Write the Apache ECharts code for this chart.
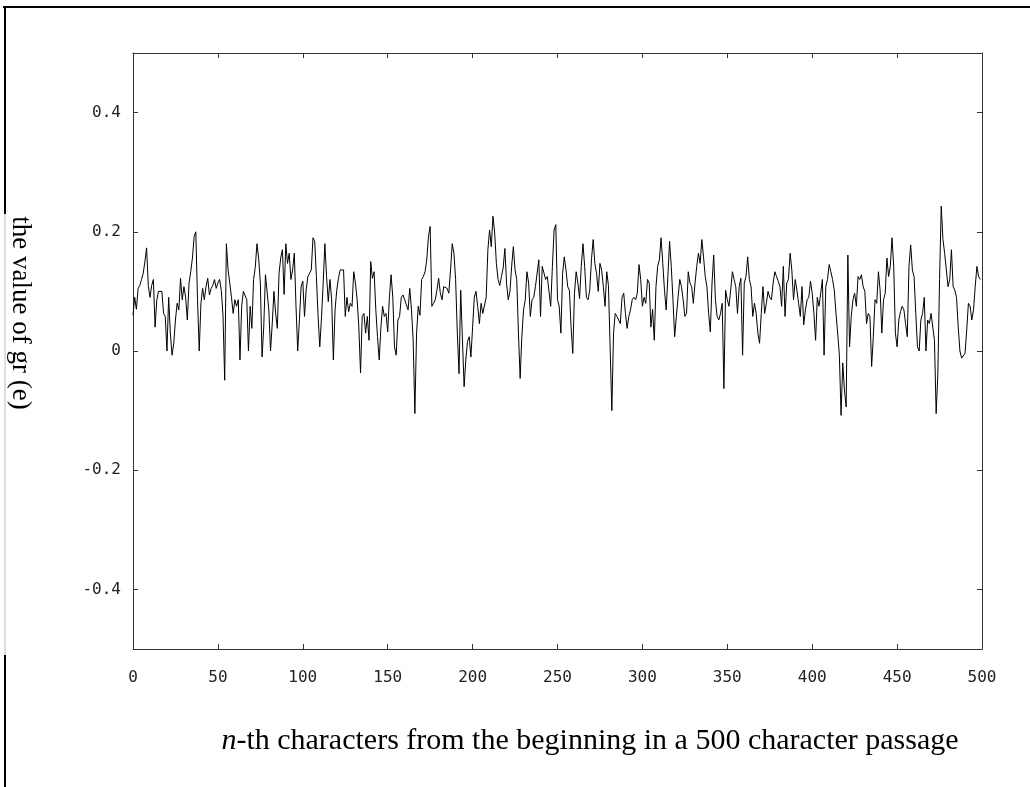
<!DOCTYPE html>
<html>
<head>
<meta charset="utf-8">
<script src="https://cdn.jsdelivr.net/npm/echarts@6/dist/echarts.min.js"></script>
<style>
  html, body { margin: 0; padding: 0; background: #fff; }
  #main { width: 1030px; height: 787px; }
</style>
</head>
<body>
<div id="main"></div>
<script>
var myChart = echarts.init(document.getElementById('main'));

// gr(e) value for each character position
var gr000 = [
    0.06, 0.09, 0.07, 0.105, 0.11, 0.12, 0.13, 0.15, 0.173, 0.11,
    0.09, 0.11, 0.12, 0.04, 0.085, 0.1, 0.097, 0.1, 0.063, 0.058,
    0.0, 0.09, 0.03, -0.007, 0.013, 0.052, 0.08, 0.069, 0.122, 0.086,
    0.108, 0.09, 0.052, 0.114, 0.133, 0.156, 0.192, 0.2, 0.086, 0.0,
    0.08, 0.105, 0.086, 0.108, 0.122, 0.094, 0.105, 0.11, 0.12, 0.105,
    0.114, 0.12, 0.102, 0.06, -0.049, 0.18, 0.136, 0.114, 0.09, 0.063,
    0.086, 0.075, 0.086, -0.015, 0.075, 0.1, 0.097, 0.086, 0.0, 0.075,
    0.038, 0.12, 0.14, 0.18, 0.156, 0.114, -0.01, 0.04, 0.128, 0.125,
    0.069, 0.0, 0.046, 0.1, 0.063, 0.038, 0.13, 0.156, 0.17, 0.095,
    0.18, 0.147, 0.164, 0.12, 0.136, 0.164, 0.075, 0.0, 0.052, 0.108
];
var gr100 = [
    0.117, 0.058, 0.103, 0.125, 0.128, 0.136, 0.19, 0.184, 0.125, 0.058,
    0.007, 0.055, 0.114, 0.18, 0.125, 0.083, 0.12, 0.086, -0.015, 0.069,
    0.102, 0.122, 0.136, 0.135, 0.136, 0.058, 0.09, 0.066, 0.08, 0.075,
    0.133, 0.114, 0.086, 0.04, -0.037, 0.058, 0.063, 0.03, 0.058, 0.018,
    0.15, 0.122, 0.133, 0.069, 0.024, -0.015, 0.04, 0.075, 0.058, 0.063,
    0.032, 0.09, 0.128, 0.09, 0.007, -0.007, 0.052, 0.058, 0.09, 0.094,
    0.086, 0.086, 0.069, 0.105, 0.069, 0.018, -0.105, 0.03, 0.075, 0.06,
    0.12, 0.125, 0.133, 0.153, 0.192, 0.209, 0.075, 0.08, 0.086, 0.102,
    0.122, 0.097, 0.086, 0.108, 0.108, 0.105, 0.097, 0.136, 0.18, 0.164,
    0.12, 0.03, -0.038, 0.102, 0.02, -0.06, -0.015, 0.016, 0.024, -0.01
];
var gr200 = [
    0.04, 0.09, 0.1, 0.075, 0.046, 0.08, 0.063, 0.06, 0.09, 0.17,
    0.203, 0.175, 0.226, 0.198, 0.147, 0.12, 0.11, 0.125, 0.139, 0.172,
    0.114, 0.086, 0.1, 0.142, 0.175, 0.136, 0.12, 0.03, -0.046, 0.024,
    0.069, 0.086, 0.133, 0.114, 0.058, 0.086, 0.09, 0.108, 0.105, 0.153,
    0.058, 0.142, 0.145, 0.12, 0.125, 0.1, 0.075, 0.142, 0.203, 0.212,
    0.086, 0.075, 0.03, 0.13, 0.158, 0.136, 0.108, 0.102, 0.04, -0.004,
    0.097, 0.133, 0.114, 0.088, 0.142, 0.18, 0.142, 0.09, 0.086, 0.102,
    0.153, 0.187, 0.147, 0.13, 0.1, 0.147, 0.136, 0.108, 0.075, 0.133,
    0.11, 0.108, -0.1, 0.03, 0.063, 0.058, 0.055, 0.046, 0.09, 0.097,
    0.063, 0.038, 0.058, 0.069, 0.086, 0.09, 0.086, 0.097, 0.145, 0.12
];
var gr300 = [
    0.075, 0.09, 0.08, 0.12, 0.114, 0.04, 0.07, 0.018, 0.108, 0.142,
    0.153, 0.19, 0.147, 0.102, 0.069, 0.125, 0.184, 0.142, 0.086, 0.024,
    0.058, 0.09, 0.12, 0.108, 0.086, 0.058, 0.063, 0.133, 0.114, 0.108,
    0.08, 0.114, 0.142, 0.164, 0.147, 0.187, 0.158, 0.125, 0.108, 0.063,
    0.032, 0.114, 0.161, 0.086, 0.058, 0.052, 0.063, 0.08, -0.063, 0.102,
    0.086, 0.075, 0.102, 0.133, 0.12, 0.108, 0.063, 0.108, 0.122, -0.007,
    0.114, 0.125, 0.158, 0.12, 0.108, 0.058, 0.08, 0.063, 0.03, 0.013,
    0.063, 0.108, 0.063, 0.08, 0.1, 0.09, 0.086, 0.114, 0.133, 0.125,
    0.117, 0.108, 0.075, 0.142, 0.058, 0.114, 0.12, 0.164, 0.136, 0.086,
    0.12, 0.102, 0.08, 0.058, 0.108, 0.044, 0.069, 0.086, 0.09, 0.117
];
var gr400 = [
    0.097, 0.063, 0.018, 0.09, 0.075, 0.097, 0.12, -0.007, 0.108, 0.12,
    0.145, 0.133, 0.12, 0.102, 0.063, 0.03, -0.007, -0.108, -0.02, -0.066,
    -0.094, 0.161, 0.007, 0.058, 0.086, 0.097, 0.075, 0.125, 0.12, 0.128,
    0.108, 0.1, 0.046, 0.063, 0.058, -0.026, 0.024, 0.086, 0.08, 0.133,
    0.102, 0.03, 0.086, 0.097, 0.156, 0.125, 0.142, 0.19, 0.142, 0.03,
    0.007, 0.052, 0.066, 0.075, 0.069, 0.046, 0.024, 0.142, 0.178, 0.136,
    0.125, 0.063, 0.007, 0.0, 0.052, 0.063, 0.09, 0.0, 0.052, 0.046,
    0.063, 0.06, 0.018, -0.105, -0.038, 0.12, 0.243, 0.187, 0.164, 0.136,
    0.108, 0.12, 0.17, 0.108, 0.102, 0.09, 0.04, 0.0, -0.012, -0.015,
    -0.004, 0.035, 0.08, 0.075, 0.052, 0.069, 0.108, 0.142, 0.125, 0.12
];

var yTicks = [-0.4, -0.2, 0, 0.2, 0.4];
var xName = 'th characters from the beginning in a 500 character passage';
var yName = 'the value of gr (e)';

var values = gr000.concat(gr100, gr200, gr300, gr400);
var lineData = values.map(function (v, i) { return [i, v]; });

var tickFont = "'DejaVu Sans Mono', monospace";
var titleFont = "'Liberation Serif', 'Times New Roman', serif";
var frameColor = '#333';

function xAxisOf(pos, showLabel) {
    return {
        type: 'value', position: pos, min: 0, max: 500, interval: 50,
        axisLine: { show: true, onZero: false, lineStyle: { color: frameColor, width: 1 } },
        axisTick: { show: true, inside: true, length: 5, lineStyle: { color: frameColor } },
        axisLabel: { show: showLabel, margin: 21, color: '#222', fontFamily: tickFont, fontSize: 16 },
        splitLine: { show: false }
    };
}
function yAxisOf(pos, showLabel) {
    return {
        type: 'value', position: pos, min: -0.5, max: 0.5,
        axisLine: { show: true, onZero: false, lineStyle: { color: frameColor, width: 1 } },
        axisTick: { show: true, inside: true, length: 5, customValues: yTicks, lineStyle: { color: frameColor } },
        axisLabel: { show: showLabel, margin: 12, customValues: yTicks, color: '#222', fontFamily: tickFont, fontSize: 16 },
        splitLine: { show: false }
    };
}

option = {
    backgroundColor: '#fff',
    animation: false,
    grid: { left: 133, right: 48, top: 53, bottom: 138 },
    xAxis: [xAxisOf('bottom', true), xAxisOf('top', false)],
    yAxis: [yAxisOf('left', true), yAxisOf('right', false)],
    graphic: [
        // page frame fragments
        { type: 'line', shape: { x1: 3, y1: 7, x2: 1030, y2: 7 }, style: { stroke: '#000', lineWidth: 2 } },
        { type: 'line', shape: { x1: 5, y1: 7, x2: 5, y2: 214 }, style: { stroke: '#000', lineWidth: 2 } },
        { type: 'line', shape: { x1: 5, y1: 214, x2: 5, y2: 655 }, style: { stroke: '#bbb', lineWidth: 1 } },
        { type: 'line', shape: { x1: 5, y1: 655, x2: 5, y2: 787 }, style: { stroke: '#000', lineWidth: 2 } },
        {
            type: 'text', x: 20, y: 313, rotation: -Math.PI / 2,
            style: { text: yName, font: '27px ' + titleFont, fill: '#000', textAlign: 'center', textVerticalAlign: 'middle' }
        },
        {
            type: 'text', x: 590, y: 741,
            style: {
                text: '{it|n}-' + xName,
                font: '30px ' + titleFont, fill: '#000', textAlign: 'center', textVerticalAlign: 'middle',
                rich: { it: { fontStyle: 'italic', fontFamily: titleFont, fontSize: 30 } }
            }
        }
    ],
    series: [{
        name: 'gr(e)',
        type: 'line',
        xAxisIndex: 0,
        yAxisIndex: 0,
        data: lineData,
        showSymbol: false,
        lineStyle: { color: '#000', width: 1 },
        silent: true
    }]
};
myChart.setOption(option);
</script>
</body>
</html>
